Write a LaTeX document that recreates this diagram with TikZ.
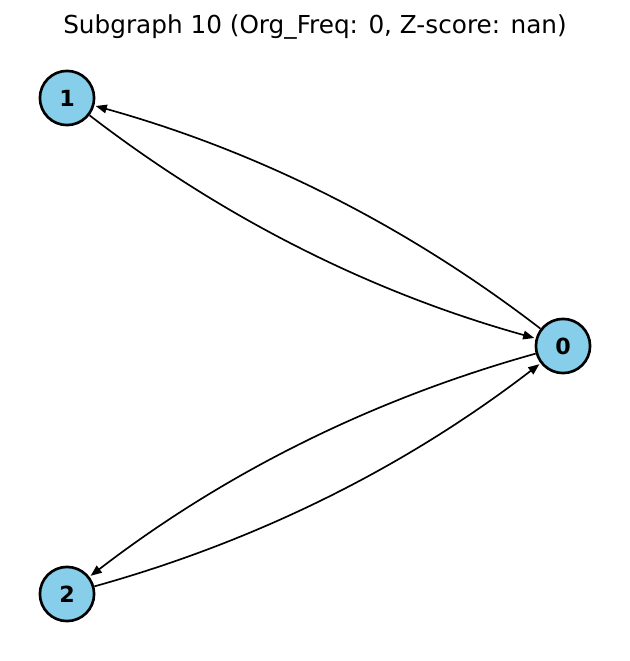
\documentclass[tikz,border=0pt]{standalone}
\usepackage{fontspec}
\setmainfont{DejaVu Sans}
\usetikzlibrary{arrows.meta}
\definecolor{nodefill}{HTML}{87CEEB}
\begin{document}
\begin{tikzpicture}[x=0.72pt,y=-0.72pt,
  vertex/.style={circle,draw=black,fill=nodefill,line width=1.9pt,
    minimum size=39pt,inner sep=0pt,font=\bfseries\fontsize{16}{19}\selectfont},
  link/.style={draw=black,line width=1.2pt,
    -{Triangle[length=8pt,width=6.2pt]},shorten >=1pt,
    bend right=11,looseness=0.87}]
  \useasboundingbox (0,0) rectangle (629,661);
  \node[font=\fontsize{17.8}{21}\selectfont] (title) at (315,27)
    {Subgraph 10 (Org\_Freq: 0, Z-score: nan)};
  \node[vertex] (n0) at (563,346) {0};
  \node[vertex] (n1) at (67,98) {1};
  \node[vertex] (n2) at (67,594) {2};
  \draw[link] (n1) to (n0);
  \draw[link] (n0) to (n1);
  \draw[link] (n2) to (n0);
  \draw[link] (n0) to (n2);
\end{tikzpicture}
\end{document}
